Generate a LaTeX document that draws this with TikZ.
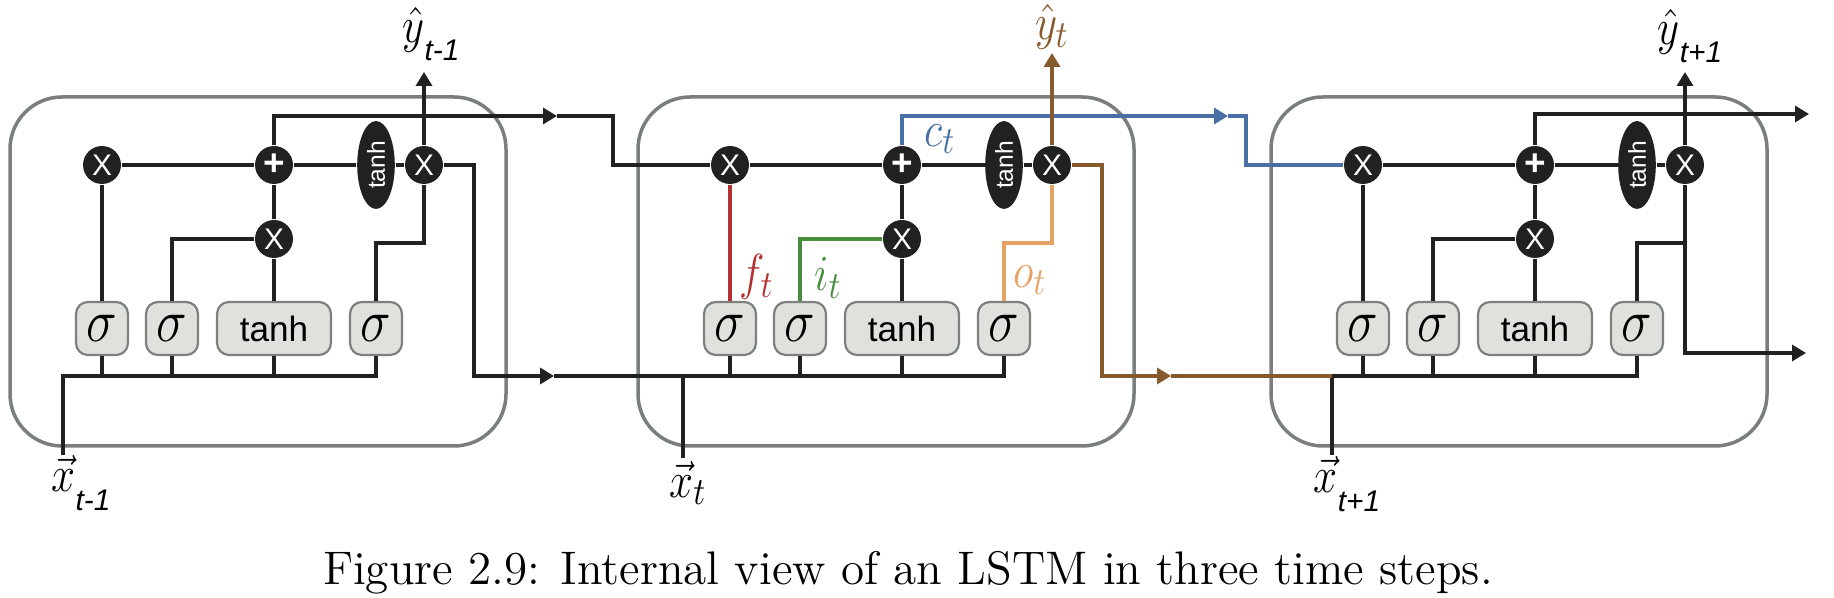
\documentclass[tikz,border=0pt]{standalone}
\usepackage{amsmath}
\usepackage{graphicx}
\usepackage{fontspec}
\setsansfont{Liberation Sans}
\usetikzlibrary{positioning, arrows.meta, shapes.geometric, calc}

\definecolor{ink}{RGB}{33,33,33}
\definecolor{framegray}{RGB}{122,126,126}
\definecolor{gategray}{RGB}{125,128,128}
\definecolor{gatefill}{RGB}{224,225,220}
\definecolor{fcol}{RGB}{180,48,48}
\definecolor{icol}{RGB}{72,140,62}
\definecolor{ocol}{RGB}{230,162,100}
\definecolor{ccol}{RGB}{72,112,165}
\definecolor{hcol}{RGB}{135,90,45}

\newcommand{\stepsub}[1]{\raisebox{-0.8ex}{\fontsize{8.5}{9}\sffamily\itshape #1}}
\newcommand{\narrowmath}[1]{\scalebox{0.85}[1]{$#1$}}

\begin{document}
\begin{tikzpicture}[x=0.1mm, y=-0.1mm,
    wire/.style={draw=ink, line width=0.34mm},
    arrowed/.style={-{Triangle[length=1.4mm, width=1.6mm]}},
    cell/.style={draw=framegray, line width=0.35mm, rounded corners=5.2mm},
    op/.style={circle, fill=ink, text=white, inner sep=0pt, minimum size=10.8pt,
      font=\fontsize{8.5}{9}\sffamily},
    squash/.style={ellipse, fill=ink, text=white, inner sep=0pt, minimum width=25pt,
      minimum height=10.7pt, rotate=90, font=\fontsize{7}{8}\sffamily},
    gate/.style={draw=gategray, fill=gatefill, line width=0.22mm, rounded corners=1.2mm,
      inner sep=0pt, minimum width=14.8pt, minimum height=15.1pt,
      font=\fontsize{16.5}{17}\selectfont},
    wide/.style={gate, minimum width=32.4pt, font=\fontsize{10}{12}\sffamily},
    lbl/.style={inner sep=0pt, font=\fontsize{15.5}{17}\selectfont}]
  \useasboundingbox (0,0) rectangle (1834,598);

  % three copies of the cell, the middle one with coloured gates
  \foreach \c/\L/\fc/\ic/\oc in {1/10/ink/ink/ink, 2/638/fcol/icol/ocol, 3/1271/ink/ink/ink} {
    \draw[cell] (\L,97) rectangle (\L+496,446);
    \node[op] (f\c) at (\L+92,165) {X};
    \node[op, font=\fontsize{10.5}{11}\sffamily\bfseries] (p\c) at (\L+264,165) {+};
    \node[op] (m\c) at (\L+264,239) {X};
    \node[squash] (e\c) at (\L+366,165) {tanh};
    \node[op] (o\c) at (\L+414,165) {X};
    \node[gate] (sf\c) at (\L+92,328.5) {\narrowmath{\sigma}};
    \node[gate] (si\c) at (\L+162,328.5) {\narrowmath{\sigma}};
    \node[wide] (sc\c) at (\L+264,328.5) {tanh};
    \node[gate] (so\c) at (\L+366,328.5) {\narrowmath{\sigma}};
    \coordinate (g\c) at (\L+414,243);
    \coordinate (b\c) at (\L+366,376);
    \draw[wire] (f\c) -- (p\c) -- (e\c) -- (o\c);
    \draw[wire] (sc\c) -- (m\c) -- (p\c);
    \draw[wire] (sf\c) -- (sf\c |- b\c);
    \draw[wire] (si\c) -- (si\c |- b\c);
    \draw[wire] (sc\c) -- (sc\c |- b\c);
    \draw[wire, draw=\fc] (sf\c) -- (f\c);
    \draw[wire, draw=\ic] (si\c) |- (m\c);
    \draw[wire, draw=\oc] (so\c) |- (g\c) -- (o\c);
  }

  % inputs
  \coordinate (xin1) at (63,455);
  \coordinate (xin2) at (683,458);
  \coordinate (xin3) at (1332,455);
  \draw[wire] (xin1) |- (b1) -- (so1);
  \draw[wire] (xin2) -- (xin2 |- b2);
  \draw[wire] (xin3) |- (b3) -- (so3);
  \node[lbl] (lx1) at (81,483) {\narrowmath{\vec{x}}\stepsub{t-1}};
  \node[lbl] (lx2) at (688,483) {\narrowmath{\vec{x}_t}};
  \node[lbl] (lx3) at (1347,484) {\narrowmath{\vec{x}}\stepsub{t+1}};

  % step t-1 to step t
  \coordinate (a1) at (557,116);
  \coordinate (k1) at (613,116);
  \coordinate (r1) at (474,376);
  \coordinate (a1b) at (554,376);
  \draw[wire, arrowed] (p1) |- (a1);
  \draw[wire] (a1) -- (k1) |- (f2);
  \draw[wire, arrowed] (o1) -| (r1) -- (a1b);
  \draw[wire] (a1b) -- (b2) -- (so2);

  % step t to step t+1
  \coordinate (a2) at (1228,116);
  \coordinate (k2) at (1246,116);
  \coordinate (r2) at (1102,376);
  \coordinate (a2b) at (1171,376);
  \draw[wire, draw=ccol, arrowed] (p2) |- (a2);
  \draw[wire, draw=ccol] (a2) -- (k2) |- (f3);
  \draw[wire, draw=hcol, arrowed] (o2) -| (r2) -- (a2b);
  \draw[wire, draw=hcol] (a2b) -- (xin3 |- b3);

  % step t+1 leaves the picture
  \coordinate (a3) at (1809,114);
  \coordinate (a3b) at (1806,353);
  \draw[wire, arrowed] (p3) |- (a3);
  \draw[wire, arrowed] (g3) |- (a3b);

  % outputs
  \coordinate (yt1) at (424,72);
  \coordinate (yt2) at (1052,53);
  \coordinate (yt3) at (1685,72);
  \draw[wire, arrowed] (o1) -- (yt1);
  \draw[wire, draw=hcol, arrowed] (o2) -- (yt2);
  \draw[wire, arrowed] (o3) -- (yt3);
  \node[lbl] (ly1) at (431,34) {\narrowmath{\hat{y}}\stepsub{t-1}};
  \node[lbl, text=hcol] (ly2) at (1052,27) {\narrowmath{\hat{y}_t}};
  \node[lbl] (ly3) at (1690,36) {\narrowmath{\hat{y}}\stepsub{t+1}};

  % gate and state names
  \node[lbl, text=fcol] (lf) at (757,277) {\narrowmath{f_t}};
  \node[lbl, text=icol] (li) at (828,278) {\narrowmath{i_t}};
  \node[lbl, text=ocol] (lo) at (1030,280) {\narrowmath{o_t}};
  \node[lbl, text=ccol] (lc) at (940,139) {\narrowmath{c_t}};

  \node[font=\fontsize{13.4}{16}\selectfont] (cap) at (908,573)
    {Figure 2.9: Internal view of an LSTM in three time steps.};
\end{tikzpicture}
\end{document}
